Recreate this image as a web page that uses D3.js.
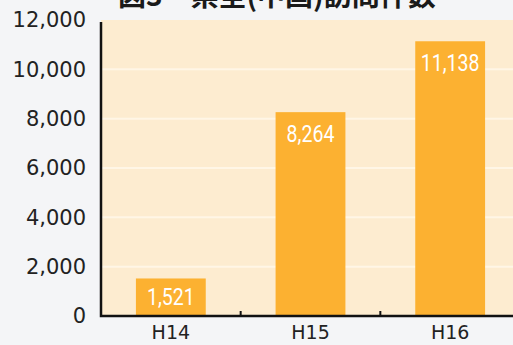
<!DOCTYPE html>
<html>
<head>
<meta charset="utf-8">
<script src="https://cdn.jsdelivr.net/npm/d3@7"></script>
<style>
	body { margin: 0; background: #f4f5f7; }
	svg { display: block; }
</style>
</head>
<body>
<div class="c-svg"></div>
<script>
//DATA
//-------------------------------------------------------------------------

const titleText = "図3　県全(中国)訪問件数";
const categories = ["H14", "H15", "H16"];
const values = [1521, 8264, 11138];
const yTicks = [0, 2000, 4000, 6000, 8000, 10000, 12000];

//number format with thousands separator
const fmt = d3.format(",");

//opts for svg
const opts = {
	width: 513,
	height: 345,
	margin: { top: 20, right: -7, bottom: 29, left: 101 }
};

const innerChart = {
	width: opts.width - opts.margin.left - opts.margin.right,
	height: opts.height - opts.margin.top - opts.margin.bottom
};

const svg = d3.select(".c-svg")
	.append("svg")
	.attr("width", opts.width)
	.attr("height", opts.height);

//title, cut off by top edge (as in the reference)
svg.append("text")
	.attr("x", 118)
	.attr("y", 6)
	.attr("font-family", "'Noto Sans CJK JP', sans-serif")
	.attr("font-weight", "bold")
	.attr("font-size", 28)
	.attr("fill", "#1a1a1a")
	.text(titleText);

const g = svg.append("g")
	.attr("transform", `translate(${opts.margin.left} ${opts.margin.top})`);

//SCALES
//-------------------------------------------------------------------------

const x = d3.scaleBand()
	.domain(categories)
	.range([0, innerChart.width])
	.paddingInner(0.5)
	.paddingOuter(0.25);

const y = d3.scaleLinear()
	.domain([0, 12000])
	.range([innerChart.height, 0]);

//plot background
g.append("rect")
	.attr("x", 0)
	.attr("y", 0)
	.attr("width", innerChart.width)
	.attr("height", innerChart.height)
	.attr("fill", "#fdecd0");

//faint light gridlines
g.selectAll(".grid")
	.data(yTicks.slice(1, -1))
	.join("line")
	.attr("class", "grid")
	.attr("x1", 0)
	.attr("x2", innerChart.width)
	.attr("y1", d => y(d))
	.attr("y2", d => y(d))
	.attr("stroke", "#fff6e6")
	.attr("stroke-width", 2);

//BARS
//-------------------------------------------------------------------------

const bars = g.selectAll(".bar")
	.data(categories.map((c, i) => ({ cat: c, value: values[i] })))
	.join("g")
	.attr("class", "bar");

bars.append("rect")
	.attr("x", d => x(d.cat))
	.attr("y", d => y(d.value))
	.attr("width", x.bandwidth())
	.attr("height", d => innerChart.height - y(d.value))
	.attr("fill", "#fcb131");

//value labels, squeezed horizontally to look condensed
bars.append("text")
	.attr("transform", d => {
		const lx = x(d.cat) + x.bandwidth() / 2;
		const ly = y(d.value) + Math.min(30, innerChart.height - y(d.value) - 11);
		return `translate(${lx} ${ly}) scale(0.85 1)`;
	})
	.attr("text-anchor", "middle")
	.attr("font-family", "Roboto, sans-serif")
	.attr("font-size", 23)
	.attr("fill", "#ffffff")
	.text(d => fmt(d.value));

//AXIS
//-------------------------------------------------------------------------

const yAxis = d3.axisLeft(y)
	.tickValues(yTicks)
	.tickSize(0)
	.tickPadding(15)
	.tickFormat(fmt);

g.append("g")
	.attr("class", "axis y_axis")
	.call(yAxis)
	.call(s => s.select(".domain").remove())
	.selectAll("text")
	.attr("font-family", "'DejaVu Sans', sans-serif")
	.attr("font-size", 21)
	.attr("fill", "#222");

const xAxis = d3.axisBottom(x)
	.tickSize(0)
	.tickPadding(10);

g.append("g")
	.attr("class", "axis x_axis")
	.attr("transform", `translate(0 ${innerChart.height})`)
	.call(xAxis)
	.call(s => s.select(".domain").remove())
	.selectAll("text")
	.attr("font-family", "'DejaVu Sans', sans-serif")
	.attr("font-size", 19)
	.attr("fill", "#222");

//separator ticks between categories
g.selectAll(".sep")
	.data(categories.slice(1))
	.join("line")
	.attr("class", "sep")
	.attr("x1", d => x(d) - x.step() * x.paddingInner() / 2)
	.attr("x2", d => x(d) - x.step() * x.paddingInner() / 2)
	.attr("y1", innerChart.height)
	.attr("y2", innerChart.height - 5)
	.attr("stroke", "#111")
	.attr("stroke-width", 2);

//axis lines
g.append("path")
	.attr("d", `M0,2V${innerChart.height}H${innerChart.width}`)
	.attr("fill", "none")
	.attr("stroke", "#111")
	.attr("stroke-width", 2.5);
</script>
</body>
</html>
